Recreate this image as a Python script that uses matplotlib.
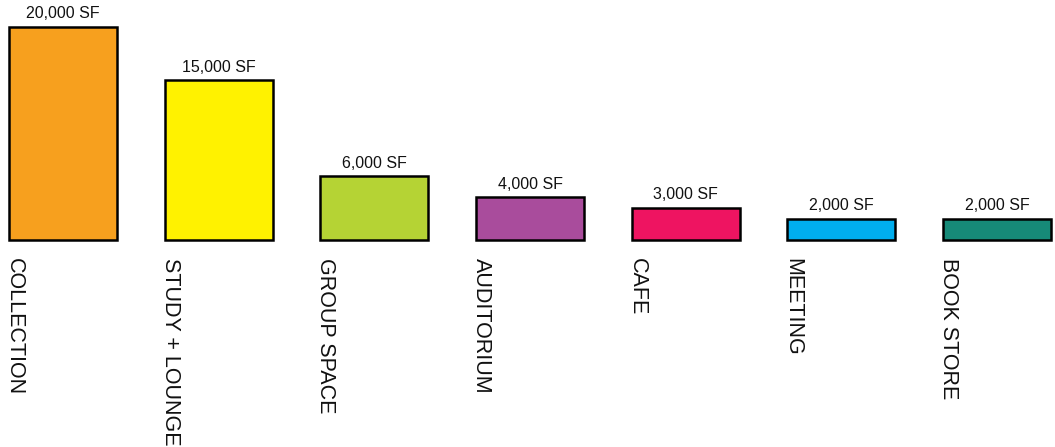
import matplotlib
matplotlib.use("Agg")
import matplotlib.pyplot as plt
import matplotlib.transforms as mtransforms

categories = ["COLLECTION", "STUDY + LOUNGE", "GROUP SPACE", "AUDITORIUM", "CAFE", "MEETING", "BOOK STORE"]
values = [20000, 15000, 6000, 4000, 3000, 2000, 2000]
value_labels = ["20,000 SF", "15,000 SF", "6,000 SF", "4,000 SF", "3,000 SF", "2,000 SF", "2,000 SF"]
colors = ["#F7A01E", "#FFF200", "#B5D334", "#A94C9C", "#EE1461", "#00AEEF", "#168A78"]

plt.rcParams['font.family'] = ['Liberation Sans', 'DejaVu Sans']

W, H = 1055, 447
fig = plt.figure(figsize=(W / 100, H / 100), dpi=100)
base_px = 240
ax = fig.add_axes([0, (H - base_px) / H, 1, base_px / H])

step = 155.67
width = 108 / step
x = list(range(len(categories)))
bars = ax.bar(x, values, width=width, color=colors, edgecolor="black", linewidth=1.8)
for b in bars:
    b.set_clip_on(False)
ax.set_xlim(-63 / step, (W - 63) / step)
ax.set_ylim(0, 20000 * base_px / 213)
ax.axis("off")

for i, (v, lab) in enumerate(zip(values, value_labels)):
    ax.annotate(lab, (i, v), xytext=(0, 4), textcoords="offset points",
                ha="center", va="bottom", fontsize=11.5, color="#111111")

trans = mtransforms.blended_transform_factory(ax.transData, ax.transAxes)
for i, cat in enumerate(categories):
    t = mtransforms.offset_copy(trans, fig=fig, x=-5, y=-18, units="dots")
    ax.text(i - width / 2, 0, cat, transform=t, rotation=270,
            ha="left", va="top", fontsize=15.5, color="#111111")

fig.savefig("out.png", dpi=100)
